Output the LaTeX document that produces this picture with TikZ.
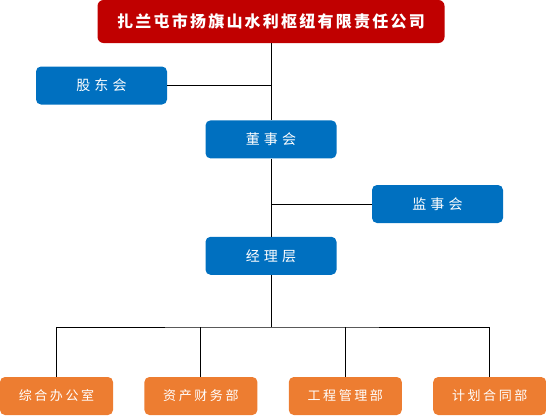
\documentclass[tikz,border=0pt]{standalone}
\usepackage{fontspec}
\newfontfamily\cjk[LetterSpace=30]{Noto Sans CJK SC}
\newfontfamily\cjkbu[LetterSpace=20]{Noto Sans CJK SC}
\newfontfamily\cjktitle[LetterSpace=14]{Noto Sans CJK SC}
\usetikzlibrary{positioning}
\definecolor{hongse}{HTML}{C00000}
\definecolor{lanse}{HTML}{0070C0}
\definecolor{chengse}{HTML}{ED7D31}
\tikzstyle{lines}=[draw=black, line width=1pt]

\begin{document}
\begin{tikzpicture}[
 titlenode/.style={rectangle, rounded corners=6pt, fill=hongse, text=white, minimum width=347pt, minimum height=43pt, inner sep=0pt, font=\cjktitle\bfseries\fontsize{16}{18}\selectfont},
 bluenode/.style={rectangle, rounded corners=5pt, fill=lanse, text=white, minimum width=131pt, minimum height=38pt, inner sep=0pt, font=\cjk\fontsize{14}{16}\selectfont},
 orangenode/.style={rectangle, rounded corners=5pt, fill=chengse, text=white, minimum width=113pt, minimum height=38pt, inner sep=0pt, font=\cjkbu\fontsize{13}{15}\selectfont}
 ]
 \useasboundingbox (0,0) rectangle (546pt,-415pt);

 %Nodes
 \node[titlenode]   (gongsi_node)    at (271pt,-21.5pt) {扎兰屯市扬旗山水利枢纽有限责任公司};
 \node[bluenode]    (gudong_node)    at (101.5pt,-85.5pt) {股东会};
 \node[bluenode]    (dongshi_node)   [below=77pt of gongsi_node] {董事会};
 \node[bluenode]    (jianshi_node)   at (437.5pt,-204pt) {监事会};
 \node[bluenode]    (jingli_node)    [below=78pt of dongshi_node] {经理层};

 \node[orangenode]  (zonghe_node)    at (56.5pt,-396pt) {综合办公室};
 \node[orangenode]  (zichan_node)    [right=31pt of zonghe_node] {资产财务部};
 \node[orangenode]  (gongcheng_node) [right=31pt of zichan_node] {工程管理部};
 \node[orangenode]  (jihua_node)     [right=31pt of gongcheng_node] {计划合同部};

 \coordinate[below=52pt of jingli_node.south] (fenzhi);

 %Lines
 \draw[lines] (gongsi_node.south) -- (dongshi_node.north);
 \draw[lines] (gudong_node.east) -- (gudong_node.east -| gongsi_node.south);
 \draw[lines] (dongshi_node.south) -- (jingli_node.north);
 \draw[lines] (jianshi_node.west) -- (jianshi_node.west -| dongshi_node.south);
 \draw[lines] (jingli_node.south) -- (fenzhi);
 \draw[lines] (zonghe_node.north) |- (fenzhi) -| (jihua_node.north);
 \draw[lines] (zichan_node.north) -- (zichan_node.north |- fenzhi);
 \draw[lines] (gongcheng_node.north) -- (gongcheng_node.north |- fenzhi);
\end{tikzpicture}
\end{document}
